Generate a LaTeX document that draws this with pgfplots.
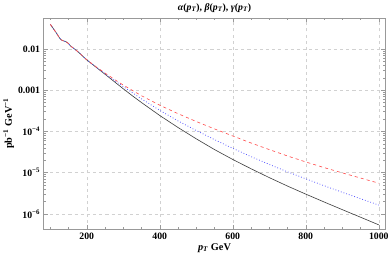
\documentclass[border=0pt]{standalone}
\usepackage{pgfplots}
\pgfplotsset{compat=1.18}
\usepackage{fontspec}
\setmainfont{Liberation Serif}
\definecolor{frameg}{gray}{0.6}
\definecolor{gridg}{gray}{0.82}
\definecolor{cblack}{gray}{0.25}
\definecolor{cred}{rgb}{1,0.3,0.3}
\definecolor{cblue}{rgb}{0.3,0.3,1}
\begin{document}
\begin{tikzpicture}
\begin{axis}[
  scale only axis,
  width=332pt, height=205pt,
  xmode=normal, ymode=log,
  xmin=82, xmax=1018,
  ymin=4.3e-7, ymax=0.056,
  axis line style={frameg, line width=0.6pt},
  tick style={frameg, line width=0.5pt},
  major tick length=4pt, minor tick length=2pt,
  tick align=inside,
  xtick={200,400,600,800,1000},
  minor xtick={100,150,250,300,350,450,500,550,650,700,750,850,900,950},
  ytick={1e-6,1e-5,1e-4,1e-3,1e-2},
  yticklabels={\textbf{10\textsuperscript{−6}},\textbf{10\textsuperscript{−5}},\textbf{10\textsuperscript{−4}},\textbf{0.001},\textbf{0.01}},
  xticklabels={\textbf{200},\textbf{400},\textbf{600},\textbf{800},\textbf{1000}},
  ticklabel style={font=\fontsize{9.5}{10}\selectfont},
  grid=major,
  major grid style={gridg, dashed, line width=0.5pt},
  title={\textbf{\textit{α}(\textit{p}\textsubscript{\textit{T}}), \textit{β}(\textit{p}\textsubscript{\textit{T}}), \textit{γ}(\textit{p}\textsubscript{\textit{T}})}},
  title style={font=\fontsize{9.5}{10}\selectfont, yshift=-4pt},
  xlabel={\textbf{\textit{p}\textsubscript{\textit{T}} GeV}},
  ylabel={\textbf{pb\textsuperscript{−1} GeV\textsuperscript{−1}}},
  label style={font=\fontsize{10}{11}\selectfont},
  xlabel style={yshift=3pt},
  ylabel style={yshift=-3pt},
]
\addplot[cblack, line width=0.6pt] coordinates {
(100,0.0398)(105,0.0343)(110,0.0295)(115,0.0257)(120,0.0219)(125,0.0186)(130,0.0166)(135,0.0158)(140,0.0153)(145,0.0146)(150,0.0135)(155,0.0119)(160,0.0110)(170,0.00944)(180,0.00794)(190,0.00653)(200,0.00543)
(225,3.63e-3)(250,2.43e-3)(275,1.62e-3)(300,1.08e-3)(325,7.30e-4)(350,5.01e-4)(400,2.43e-4)(450,1.245e-4)(500,6.61e-5)(550,3.63e-5)(600,2.09e-5)(650,1.245e-5)(700,7.59e-6)(750,4.73e-6)(800,3.02e-6)(850,1.95e-6)(900,1.27e-6)(950,8.32e-7)(1000,5.43e-7)
};
\addplot[cblue, line width=0.75pt, dotted] coordinates {
(100,0.0398)(105,0.0343)(110,0.0295)(115,0.0257)(120,0.0219)(125,0.0186)(130,0.0166)(135,0.0158)(140,0.0153)(145,0.0146)(150,0.0135)(155,0.0119)(160,0.0110)(170,0.00944)(180,0.00794)(190,0.00653)(200,0.00543)
(225,3.67e-3)(250,2.51e-3)(275,1.74e-3)(300,1.22e-3)(350,6.17e-4)(400,3.24e-4)(450,1.80e-4)(500,1.05e-4)(550,6.31e-5)(600,3.89e-5)(650,2.45e-5)(700,1.585e-5)(750,1.05e-5)(800,7.08e-6)(850,4.84e-6)(900,3.35e-6)(950,2.34e-6)(1000,1.64e-6)
};
\addplot[cred, line width=0.6pt, dashed] coordinates {
(100,0.0398)(105,0.0343)(110,0.0295)(115,0.0257)(120,0.0219)(125,0.0186)(130,0.0166)(135,0.0158)(140,0.0153)(145,0.0146)(150,0.0135)(155,0.0119)(160,0.0110)(170,0.00944)(180,0.00794)(190,0.00653)(200,0.00543)
(225,3.72e-3)(250,2.60e-3)(275,1.84e-3)(300,1.33e-3)(350,7.33e-4)(400,4.32e-4)(450,2.69e-4)(500,1.74e-4)(550,1.15e-4)(600,7.76e-5)(650,5.25e-5)(700,3.63e-5)(750,2.54e-5)(800,1.82e-5)(850,1.33e-5)(900,9.89e-6)(950,7.41e-6)(1000,5.56e-6)
};
\end{axis}
\end{tikzpicture}
\end{document}
